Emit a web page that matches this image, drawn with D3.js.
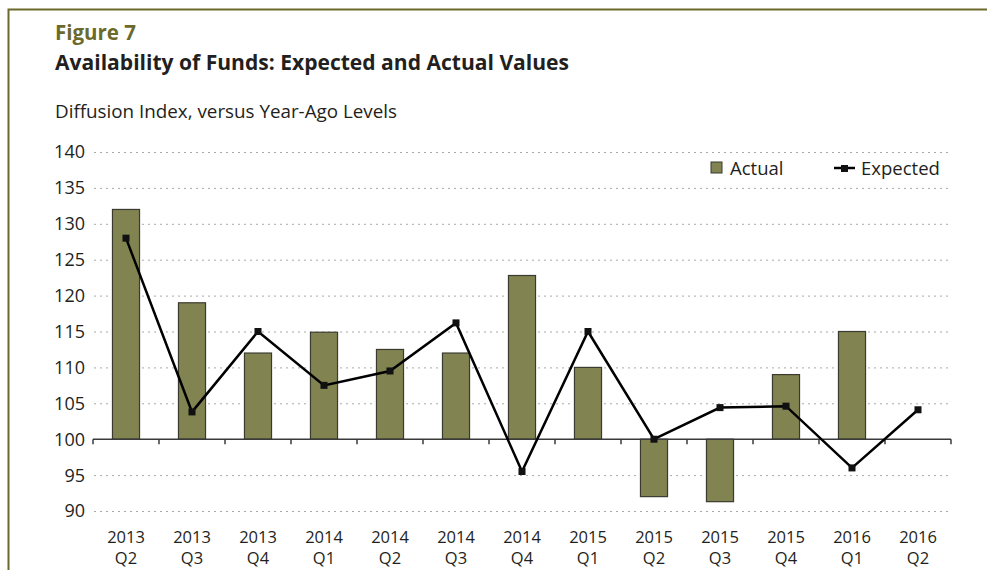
<!DOCTYPE html>
<html>
<head>
<meta charset="utf-8">
<script src="https://cdn.jsdelivr.net/npm/d3@7"></script>
<style>
  body { margin: 0; background: #fff; }
  svg { display: block; font-family: "Open Sans", "Noto Sans", sans-serif; }
</style>
</head>
<body>
<svg id="chart" width="987" height="570"></svg>
<script>
// quarters along the x axis
var years    = ["2013","2013","2013","2014","2014","2014","2014","2015","2015","2015","2015","2016","2016"];
var quarters = ["Q2","Q3","Q4","Q1","Q2","Q3","Q4","Q1","Q2","Q3","Q4","Q1","Q2"];

// series values (diffusion index)
var actual   = [132, 119, 112, 114.9, 112.5, 112, 122.8, 110, 92, 91.3, 109, 115, null];
var expected = [128, 103.8, 115, 107.5, 109.5, 116.2, 95.5, 115, 100, 104.4, 104.6, 96, 104.1];

var yTicks = [90, 95, 100, 105, 110, 115, 120, 125, 130, 135, 140];

var olive = "#6b6a2c";
var barFill = "#818350";

var svg = d3.select("#chart");

// frame
svg.append("path")
  .attr("d", "M8.5,570 L8.5,9.5 L987,9.5")
  .attr("fill", "none")
  .attr("stroke", olive)
  .attr("stroke-width", 2);

// titles
svg.append("text").attr("x", 55).attr("y", 40)
  .attr("font-size", 20.5).attr("font-weight", "bold").attr("fill", olive)
  .text("Figure 7");
svg.append("text").attr("x", 55).attr("y", 70)
  .attr("font-size", 20.5).attr("font-weight", "bold").attr("fill", "#231f20")
  .attr("textLength", 514).attr("lengthAdjust", "spacingAndGlyphs")
  .text("Availability of Funds: Expected and Actual Values");
svg.append("text").attr("x", 55).attr("y", 118)
  .attr("font-size", 18).attr("fill", "#231f20")
  .attr("textLength", 342).attr("lengthAdjust", "spacingAndGlyphs")
  .text("Diffusion Index, versus Year-Ago Levels");

var keys = d3.range(years.length);

var x = d3.scaleBand()
  .domain(keys)
  .range([93, 951])
  .paddingInner(0.59)
  .paddingOuter(0.295);

var y = d3.scaleLinear()
  .domain([90, 140])
  .range([511, 152]);

// dotted gridlines
svg.append("g")
  .selectAll("line")
  .data(yTicks.filter(function(d){ return d != 100; }))
  .join("line")
  .attr("x1", 94).attr("x2", 951)
  .attr("y1", function(d){ return y(d) + 0.5; })
  .attr("y2", function(d){ return y(d) + 0.5; })
  .attr("stroke", "#a8a8a8")
  .attr("stroke-width", 1)
  .attr("stroke-dasharray", "2,4");

// y labels
svg.append("g")
  .selectAll("text")
  .data(yTicks)
  .join("text")
  .attr("x", 85)
  .attr("y", function(d){ return y(d); })
  .attr("dy", "0.36em")
  .attr("text-anchor", "end")
  .attr("font-size", 18)
  .attr("fill", "#231f20")
  .text(function(d){ return d; });

// bars
svg.append("g")
  .selectAll("rect")
  .data(keys.filter(function(i){ return actual[i] != null; }))
  .join("rect")
  .attr("x", function(i){ return x(i); })
  .attr("width", x.bandwidth())
  .attr("y", function(i){ return y(Math.max(actual[i], 100)); })
  .attr("height", function(i){ return Math.abs(y(actual[i]) - y(100)); })
  .attr("fill", barFill)
  .attr("stroke", "#3a3a30")
  .attr("stroke-width", 1.2);

// baseline axis at 100 with ticks between categories
var axisG = svg.append("g");
axisG.append("line")
  .attr("x1", 93).attr("x2", 951)
  .attr("y1", y(100)).attr("y2", y(100))
  .attr("stroke", "#3a3a3a").attr("stroke-width", 1.5);
var step = x.step();
axisG.selectAll("line.tk")
  .data(d3.range(years.length + 1))
  .join("line")
  .attr("class", "tk")
  .attr("x1", function(i){ return 93 + i * step; })
  .attr("x2", function(i){ return 93 + i * step; })
  .attr("y1", y(100)).attr("y2", y(100) + 5)
  .attr("stroke", "#3a3a3a").attr("stroke-width", 1.5);

// x labels
var xl = svg.append("g")
  .selectAll("text")
  .data(keys)
  .join("text")
  .attr("text-anchor", "middle")
  .attr("font-size", 16.5)
  .attr("fill", "#231f20");
xl.append("tspan")
  .attr("x", function(i){ return x(i) + x.bandwidth() / 2; })
  .attr("y", 543)
  .text(function(i){ return years[i]; });
xl.append("tspan")
  .attr("x", function(i){ return x(i) + x.bandwidth() / 2; })
  .attr("y", 564)
  .text(function(i){ return quarters[i]; });

// expected line
var line = d3.line()
  .x(function(d, i){ return x(i) + x.bandwidth() / 2; })
  .y(function(d){ return y(d); });

svg.append("path")
  .datum(expected)
  .attr("d", line)
  .attr("fill", "none")
  .attr("stroke", "#000")
  .attr("stroke-width", 2.5);

svg.append("g")
  .selectAll("rect")
  .data(expected)
  .join("rect")
  .attr("x", function(d, i){ return x(i) + x.bandwidth() / 2 - 3.5; })
  .attr("y", function(d){ return y(d) - 3.5; })
  .attr("width", 7).attr("height", 7)
  .attr("fill", "#111");

// legend
var lg = svg.append("g");
lg.append("rect")
  .attr("x", 711).attr("y", 162).attr("width", 11).attr("height", 11)
  .attr("fill", barFill).attr("stroke", "#3a3a30").attr("stroke-width", 1);
lg.append("text").attr("x", 730).attr("y", 175)
  .attr("font-size", 18.5).attr("fill", "#231f20").text("Actual");
lg.append("line")
  .attr("x1", 834).attr("x2", 855).attr("y1", 168).attr("y2", 168)
  .attr("stroke", "#000").attr("stroke-width", 2.5);
lg.append("rect")
  .attr("x", 841).attr("y", 165).attr("width", 7).attr("height", 7)
  .attr("fill", "#111");
lg.append("text").attr("x", 861).attr("y", 175)
  .attr("font-size", 18.5).attr("fill", "#231f20").text("Expected");
</script>
</body>
</html>
